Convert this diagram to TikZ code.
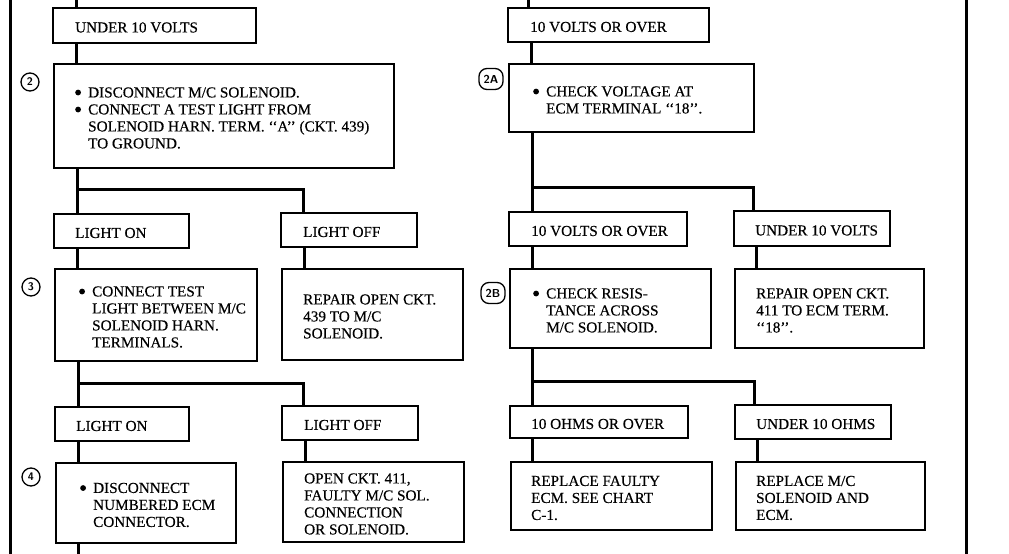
\documentclass[tikz,border=0pt]{standalone}
\usepackage{fontspec}
\setmainfont{Liberation Serif}[FakeBold=0.3]
\usetikzlibrary{calc}
\newcommand\bl{\makebox[13pt][l]{\raisebox{2pt}{\tikz\fill (0,0) circle (2.9pt);}}}
\newcommand\ind{\hspace*{13pt}}
\newcommand\oq{`{}`}
\newcommand\cq{'{}'}
\newcommand\mybox[7]{%
  \node[box,minimum width=#4pt,minimum height=#5pt,anchor=north west] (#1) at (#2,#3) {};
  \node[txt,anchor=west] (#1t) at ([xshift=#6pt,yshift=-2pt]#1.west) {#7};}
\tikzset{
  box/.style={draw,line width=2pt,inner sep=0pt},
  txt/.style={inner sep=0pt,align=left,font=\fontsize{15.2}{17}\selectfont},
  conn/.style={line width=3pt,line join=miter},
  numc/.style={draw,circle,line width=1.3pt,minimum size=18pt,inner sep=0pt,font=\sffamily\bfseries\fontsize{11}{11}\selectfont},
  numr/.style={draw,rounded corners=8pt,line width=1.3pt,minimum width=24pt,minimum height=21pt,inner sep=0pt,font=\sffamily\bfseries\fontsize{11.5}{11.5}\selectfont}
}
\begin{document}
\begin{tikzpicture}[x=1pt,y=-1pt]
\useasboundingbox (0,0) rectangle (1009,554);
% outer border lines
\coordinate (bl0) at (10,0); \coordinate (bl1) at (10,554);
\coordinate (br0) at (966,0); \coordinate (br1) at (966,554);
\draw[conn] (bl0) -- (bl1);
\draw[conn] (br0) -- (br1);

% ---------- left column ----------
\mybox{u10a}{52}{7}{203}{35}{23}{UNDER 10 VOLTS}
\mybox{s2}{53}{63}{340}{104}{22}{\bl DISCONNECT M/C SOLENOID.\\ \bl CONNECT A TEST LIGHT FROM\\ \ind SOLENOID HARN. TERM. \oq A\cq\ (CKT. 439)\\ \ind TO GROUND.}
\mybox{lon1}{53}{213}{135}{34}{22}{LIGHT ON}
\mybox{loff1}{280}{212}{136}{34}{23}{LIGHT OFF}
\mybox{s3}{54}{268}{202}{92}{25}{\bl CONNECT TEST\\ \ind LIGHT BETWEEN M/C\\ \ind SOLENOID HARN.\\ \ind TERMINALS.}
\mybox{r439}{281}{268}{181}{91}{22}{REPAIR OPEN CKT.\\ 439 TO M/C\\ SOLENOID.}
\mybox{lon2}{54}{406}{134}{34}{22}{LIGHT ON}
\mybox{loff2}{281}{405}{136}{34}{23}{LIGHT OFF}
\mybox{s4}{55}{462}{180}{80}{25}{\bl DISCONNECT\\ \ind NUMBERED ECM\\ \ind CONNECTOR.}
\mybox{o411}{282}{461}{181}{80}{22}{OPEN CKT. 411,\\ FAULTY M/C SOL.\\ CONNECTION\\ OR SOLENOID.}

\node[numc] (c2) at (30,82) {2};
\node[numc] (c3) at (31,287) {3};
\node[numc] (c4) at (31,477) {4};

% ---------- right column ----------
\mybox{v10a}{507}{7}{201}{34}{23}{10 VOLTS OR OVER}
\mybox{s2a}{508}{63}{245}{68}{25}{\bl CHECK VOLTAGE AT\\ \ind ECM TERMINAL \oq 18\cq.}
\mybox{v10b}{508}{211}{178}{34}{23}{10 VOLTS OR OVER}
\mybox{u10b}{733}{210}{156}{35}{22}{UNDER 10 VOLTS}
\mybox{s2b}{509}{268}{201}{79}{24}{\bl CHECK RESIS-\\ \ind TANCE ACROSS\\ \ind M/C SOLENOID.}
\mybox{r411}{734}{268}{189}{79}{22}{REPAIR OPEN CKT.\\ 411 TO ECM TERM.\\ \oq 18\cq.}
\mybox{o10}{509}{405}{178}{32}{22}{10 OHMS OR OVER}
\mybox{u10o}{734}{404}{156}{34}{22}{UNDER 10 OHMS}
\mybox{rfe}{510}{461}{201}{68}{21}{REPLACE FAULTY\\ ECM. SEE CHART\\ C-1.}
\mybox{rms}{735}{461}{189}{68}{21}{REPLACE M/C\\ SOLENOID AND\\ ECM.}

\node[numr] (c2a) at (491,79) {2A};
\node[numr] (c2b) at (493,293) {2B};

% ---------- connectors, left ----------
\coordinate (t1) at (76,0);
\draw[conn] (t1) -- (u10a.north -| t1);
\draw[conn] (u10a.south -| t1) -- (s2.north -| t1);
\coordinate (j1) at (77,189); \coordinate (k1) at (303,189);
\draw[conn] (s2.south -| j1) -- (lon1.north -| j1);
\draw[conn] (j1) -- (k1) -- (loff1.north -| k1);
\coordinate (x1) at (304,0);
\draw[conn] (lon1.south -| j1) -- (s3.north -| j1);
\draw[conn] (loff1.south -| x1) -- (r439.north -| x1);
\coordinate (j2) at (78,383); \coordinate (k2) at (303,383);
\draw[conn] (s3.south -| j2) -- (lon2.north -| j2);
\draw[conn] (j2) -- (k2) -- (loff2.north -| k2);
\coordinate (x2) at (305,0);
\coordinate (bot1) at (78,554);
\draw[conn] (lon2.south -| j2) -- (s4.north -| j2);
\draw[conn] (loff2.south -| x2) -- (o411.north -| x2);
\draw[conn] (s4.south -| bot1) -- (bot1);

% ---------- connectors, right ----------
\coordinate (t2) at (528,0);
\coordinate (x3) at (531,0);
\draw[conn] (t2) -- (v10a.north -| t2);
\draw[conn] (v10a.south -| x3) -- (s2a.north -| x3);
\coordinate (j3) at (532,187); \coordinate (k3) at (753,187);
\draw[conn] (s2a.south -| j3) -- (v10b.north -| j3);
\draw[conn] (j3) -- (k3) -- (u10b.north -| k3);
\coordinate (x4) at (756,0);
\draw[conn] (v10b.south -| j3) -- (s2b.north -| j3);
\draw[conn] (u10b.south -| x4) -- (r411.north -| x4);
\coordinate (j4) at (532,381); \coordinate (k4) at (754,381);
\draw[conn] (s2b.south -| j4) -- (o10.north -| j4);
\draw[conn] (j4) -- (k4) -- (u10o.north -| k4);
\coordinate (x5) at (757,0);
\draw[conn] (o10.south -| j4) -- (rfe.north -| j4);
\draw[conn] (u10o.south -| x5) -- (rms.north -| x5);
\end{tikzpicture}
\end{document}
